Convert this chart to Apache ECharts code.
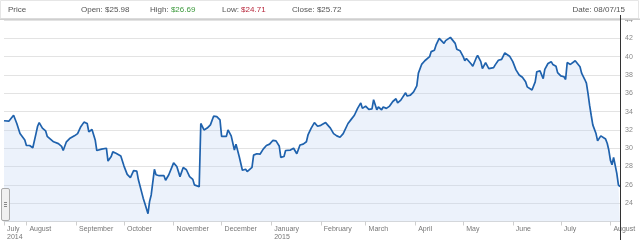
<!DOCTYPE html>
<html>
<head>
<meta charset="utf-8">
<script src="https://cdn.jsdelivr.net/npm/echarts@6/dist/echarts.min.js"></script>
<style>
html,body{margin:0;padding:0;background:#fff;}
#chart{width:640px;height:245px;}
</style>
</head>
<body>
<div id="chart"></div>
<script>
const dates = [
'2014-07-18','2014-07-21','2014-07-22','2014-07-24','2014-07-25','2014-07-26','2014-07-28','2014-07-31',
'2014-08-01','2014-08-03','2014-08-05','2014-08-07','2014-08-08','2014-08-09','2014-08-11','2014-08-13','2014-08-14','2014-08-16','2014-08-18','2014-08-21','2014-08-23','2014-08-24','2014-08-26','2014-08-28','2014-08-31',
'2014-09-02','2014-09-04','2014-09-06','2014-09-08','2014-09-09','2014-09-10','2014-09-11','2014-09-13','2014-09-14','2014-09-17','2014-09-20','2014-09-21','2014-09-23','2014-09-24','2014-09-26','2014-09-29',
'2014-10-01','2014-10-03','2014-10-05','2014-10-07','2014-10-09','2014-10-10','2014-10-11','2014-10-13','2014-10-14','2014-10-16','2014-10-17','2014-10-18','2014-10-20','2014-10-21','2014-10-23','2014-10-24','2014-10-26','2014-10-27','2014-10-29','2014-10-30',
'2014-11-01','2014-11-03','2014-11-05','2014-11-06','2014-11-07','2014-11-09','2014-11-11','2014-11-13','2014-11-14','2014-11-17','2014-11-18','2014-11-20','2014-11-22','2014-11-24','2014-11-26','2014-11-28','2014-11-30',
'2014-12-01','2014-12-04','2014-12-05','2014-12-07','2014-12-09','2014-12-10','2014-12-12','2014-12-14','2014-12-16','2014-12-17','2014-12-20','2014-12-21','2014-12-23','2014-12-25','2014-12-27','2014-12-29','2014-12-31',
'2015-01-02','2015-01-04','2015-01-06','2015-01-07','2015-01-09','2015-01-10','2015-01-13','2015-01-15','2015-01-17','2015-01-18','2015-01-19','2015-01-21','2015-01-23','2015-01-24','2015-01-26','2015-01-28','2015-01-29','2015-01-30',
'2015-02-01','2015-02-02','2015-02-04','2015-02-07','2015-02-09','2015-02-11','2015-02-13','2015-02-15','2015-02-16','2015-02-18','2015-02-20','2015-02-22','2015-02-24','2015-02-26','2015-02-27',
'2015-03-01','2015-03-03','2015-03-05','2015-03-06','2015-03-08','2015-03-09','2015-03-11','2015-03-12','2015-03-14','2015-03-16','2015-03-18','2015-03-20','2015-03-21','2015-03-23','2015-03-26','2015-03-27','2015-03-29','2015-03-31',
'2015-04-02','2015-04-03','2015-04-05','2015-04-07','2015-04-08','2015-04-10','2015-04-11','2015-04-13','2015-04-14','2015-04-16','2015-04-17','2015-04-19','2015-04-20','2015-04-21','2015-04-23','2015-04-24','2015-04-26','2015-04-27','2015-04-29',
'2015-05-01','2015-05-02','2015-05-03','2015-05-04','2015-05-06','2015-05-07','2015-05-09','2015-05-10','2015-05-12','2015-05-13','2015-05-14','2015-05-15','2015-05-17','2015-05-18','2015-05-20','2015-05-21','2015-05-23','2015-05-25','2015-05-26','2015-05-27','2015-05-28','2015-05-30',
'2015-06-01','2015-06-03','2015-06-05','2015-06-07','2015-06-09','2015-06-10','2015-06-11','2015-06-13','2015-06-15','2015-06-16','2015-06-18','2015-06-20','2015-06-21','2015-06-23','2015-06-25','2015-06-26','2015-06-28','2015-06-29',
'2015-07-01','2015-07-03','2015-07-04','2015-07-05','2015-07-07','2015-07-08','2015-07-10','2015-07-11','2015-07-13','2015-07-14','2015-07-16','2015-07-17','2015-07-18','2015-07-19','2015-07-20','2015-07-21','2015-07-23','2015-07-24','2015-07-26','2015-07-27','2015-07-29','2015-07-30','2015-07-31',
'2015-08-01','2015-08-02','2015-08-03','2015-08-04','2015-08-05','2015-08-06','2015-08-07'
];
const prices = [
33.0,32.95,33.1,33.6,33.45,32.7,31.6,30.9,
30.3,30.3,30.05,31.6,32.4,32.8,32.2,31.9,31.3,31.0,30.7,30.5,30.2,29.75,30.7,31.05,31.35,
31.6,32.35,32.85,32.7,31.8,31.7,32.05,30.9,29.75,29.9,30.0,28.6,29.1,29.6,29.45,29.15,
28.05,27.15,26.8,27.55,27.5,26.55,26.35,24.55,24.0,22.85,24.2,24.9,27.7,27.1,27.0,27.2,27.0,26.5,27.1,27.1,
28.4,28.0,26.9,26.8,27.9,27.65,26.9,26.6,26.0,25.8,32.7,32.0,32.2,32.55,33.5,33.45,33.1,
31.3,31.3,32.0,31.35,29.8,30.45,29.1,27.6,27.7,27.45,27.9,29.25,29.4,29.35,29.9,30.3,30.45,
30.85,30.8,30.25,29.0,29.1,29.75,29.8,30.0,29.4,29.35,30.35,30.45,30.7,31.45,32.2,32.8,32.7,32.4,
32.5,32.6,32.8,32.2,31.6,31.35,31.2,31.6,31.8,32.7,33.15,33.6,34.35,34.95,34.35,
34.6,34.25,34.3,35.3,34.2,34.5,34.2,34.5,34.35,34.6,35.1,35.4,34.95,35.25,36.05,35.7,35.8,36.15,
36.8,38.2,39.15,39.55,39.6,40.0,40.55,40.7,41.25,42.0,42.1,41.45,41.75,41.6,42.1,42.0,41.45,40.8,40.65,
40.0,39.55,39.8,39.9,39.2,38.95,39.8,40.15,39.45,38.7,38.7,39.35,38.7,38.9,38.8,39.1,39.6,39.7,39.55,40.4,40.25,40.05,
39.45,38.55,38.0,37.75,37.25,36.7,36.9,36.35,37.25,38.35,38.45,37.6,38.6,39.25,39.45,39.15,38.95,38.25,
37.9,37.8,37.5,39.35,39.15,39.25,39.55,39.45,38.9,38.2,37.5,37.1,36.0,34.7,33.6,32.55,31.6,30.8,31.35,31.25,31.0,30.55,29.8,
28.7,28.2,29.0,29.15,27.25,26.0,25.8
];
const monthNames = ['January','February','March','April','May','June','July','August','September','October','November','December'];
const yTicks = [24,26,28,30,32,34,36,38,40,42,44];
const header = {open:'$25.98', high:'$26.69', low:'$24.71', close:'$25.72', date:'08/07/15'};

const chart = echarts.init(document.getElementById('chart'), null, {renderer:'canvas'});
const FONT = '"Liberation Sans", Arial, sans-serif';
const xMin = dates[0], xMax = dates[dates.length-1];

const option = {
  animation:false,
  grid:{left:4, right:20, top:20, bottom:23.5, containLabel:false},
  xAxis:{
    type:'time', min:xMin, max:xMax,
    minInterval:28*86400000, maxInterval:31*86400000,
    axisLine:{show:true, lineStyle:{color:'#d8d8d8', width:1}},
    axisTick:{show:true, length:4, lineStyle:{color:'#cfcfcf'}},
    splitLine:{show:false},
    axisLabel:{
      show:true, color:'#777', fontSize:7, fontFamily:FONT, align:'left', margin:4, padding:[0,0,0,3], lineHeight:8,
      hideOverlap:false, showMinLabel:true, showMaxLabel:false,
      formatter:function(value, idx){
        const d = new Date(value);
        const m = monthNames[d.getMonth()];
        if (idx===0) return m+'\n'+d.getFullYear();
        if (d.getDate()!==1) return '';
        return d.getMonth()===0 ? m+'\n'+d.getFullYear() : m;
      }
    }
  },
  yAxis:{
    type:'value', position:'right', min:22, max:44, interval:2,
    axisLine:{show:true, lineStyle:{color:'#333', width:1}},
    axisTick:{show:false},
    splitLine:{show:true, lineStyle:{color:'#e3e3e3', width:1}},
    axisLabel:{color:'#888', fontSize:7, fontFamily:FONT, margin:5, padding:[3,0,0,0],
      formatter:function(v){ return yTicks.indexOf(v)>=0 ? String(v) : ''; }}
  },
  series:[{
    type:'line', showSymbol:false, symbol:'none',
    data: dates.map((d,i)=>[d, prices[i]]),
    lineStyle:{color:'#1f62ad', width:1.7},
    areaStyle:{color:'rgba(190,210,240,0.42)'},
    z:3
  }],
  graphic:[]
};
chart.setOption(option);

const xEnd = chart.convertToPixel({xAxisIndex:0}, xMax);
const gfx = [
  {type:'rect', shape:{x:0.5, y:0.5, width:638, height:18}, style:{fill:'#fff', stroke:'#e6e6e6', lineWidth:1}, z:10},
  {type:'rect', shape:{x:0, y:18.5, width:640, height:1.5}, style:{fill:'#cfcfcf'}, z:10},
  {type:'text', x:8, y:9.5, style:{text:'Price', fill:'#555', fontSize:8, fontFamily:FONT, verticalAlign:'middle'}, z:11},
  {type:'text', x:81, y:9.5, style:{text:'Open: '+header.open, fill:'#555', fontSize:8, fontFamily:FONT, verticalAlign:'middle'}, z:11},
  {type:'text', x:150, y:9.5, style:{rich:{a:{fill:'#555',fontSize:8,fontFamily:FONT},g:{fill:'#3d9a3d',fontSize:8,fontFamily:FONT}}, text:'{a|High: }{g|'+header.high+'}', verticalAlign:'middle'}, z:11},
  {type:'text', x:222, y:9.5, style:{rich:{a:{fill:'#555',fontSize:8,fontFamily:FONT},r:{fill:'#b8283c',fontSize:8,fontFamily:FONT}}, text:'{a|Low: }{r|'+header.low+'}', verticalAlign:'middle'}, z:11},
  {type:'text', x:292, y:9.5, style:{text:'Close: '+header.close, fill:'#555', fontSize:8, fontFamily:FONT, verticalAlign:'middle'}, z:11},
  {type:'text', x:625, y:9.5, style:{text:'Date: '+header.date, fill:'#555', fontSize:8, fontFamily:FONT, align:'right', verticalAlign:'middle'}, z:11},
  {type:'line', shape:{x1:xEnd+0.5, y1:15, x2:xEnd+0.5, y2:240}, style:{stroke:'#333', lineWidth:1}, z:12},
  {type:'rect', shape:{x:1.5, y:188.5, width:8, height:32, r:1.5}, style:{fill:'#f0f0f0', stroke:'#aaa', lineWidth:1}, z:12},
  {type:'line', shape:{x1:4, y1:202.5, x2:7, y2:202.5}, style:{stroke:'#888', lineWidth:1}, z:13},
  {type:'line', shape:{x1:4, y1:204.5, x2:7, y2:204.5}, style:{stroke:'#888', lineWidth:1}, z:13},
  {type:'line', shape:{x1:4, y1:206.5, x2:7, y2:206.5}, style:{stroke:'#888', lineWidth:1}, z:13}
];
chart.setOption({graphic:gfx});
</script>
</body>
</html>
